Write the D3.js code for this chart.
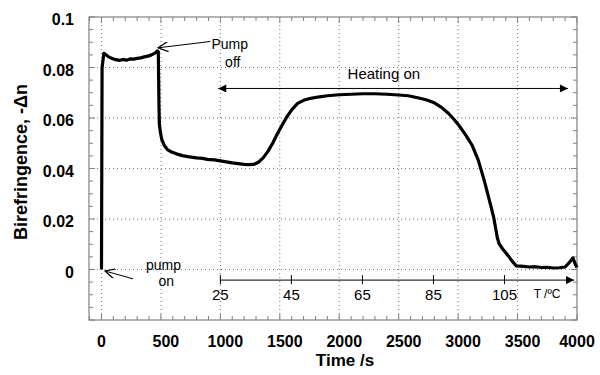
<!DOCTYPE html>
<html>
<head>
<meta charset="utf-8">
<script src="https://cdnjs.cloudflare.com/ajax/libs/d3/7.8.5/d3.min.js"></script>
<style>
  body { margin: 0; background: #fff; }
  svg text { font-family: "Liberation Sans", Arial, sans-serif; }
</style>
</head>
<body>
<svg id="chart" width="600" height="375"></svg>
<script>
// time (s) and birefringence readings
var times = [0, 5, 20, 40, 60, 90, 120, 150, 180, 210, 240, 270, 300, 330, 360, 390, 420, 450, 470, 478,
  481, 484, 487, 495, 507, 530, 555, 590, 630, 680, 740, 800, 850, 890, 950, 1000, 1050, 1100, 1150, 1200,
  1250, 1285, 1320, 1360, 1400, 1440, 1480, 1520, 1560, 1600, 1650, 1700, 1760, 1820, 1900, 2000, 2100, 2200,
  2300, 2400, 2500, 2580, 2660, 2730, 2800, 2860, 2920, 2970, 3020, 3070, 3120, 3170, 3220, 3260, 3300, 3330,
  3345, 3380, 3420, 3460, 3490, 3550, 3600, 3650, 3700, 3750, 3800, 3850, 3900, 3940, 3965, 3985, 4000];
var biref = [0.0, 0.080, 0.0856, 0.0850, 0.0842, 0.0836, 0.0831, 0.0828, 0.0832, 0.0829, 0.0834, 0.0833, 0.0836,
  0.0838, 0.0842, 0.0845, 0.0850, 0.0857, 0.0866, 0.0862,
  0.075, 0.064, 0.0575, 0.0545, 0.0515, 0.0490, 0.0475, 0.0465, 0.0458, 0.0451, 0.0446, 0.0442, 0.0440,
  0.0436, 0.0434, 0.0430, 0.0426, 0.0422, 0.0419, 0.0416,
  0.0415, 0.0417, 0.0425, 0.0442, 0.0468, 0.0500, 0.0538, 0.0572, 0.0605, 0.0632, 0.0658, 0.0670, 0.0678,
  0.0683, 0.0688, 0.0692, 0.0694, 0.0696,
  0.0696, 0.0694, 0.0691, 0.0688, 0.0680, 0.0672, 0.0660, 0.0642, 0.0618, 0.0592, 0.0562, 0.0528, 0.0490,
  0.0432, 0.0352, 0.0280, 0.0205, 0.0125,
  0.0102, 0.0078, 0.0055, 0.0030, 0.0014, 0.0012, 0.0010, 0.0011, 0.0008, 0.0009, 0.0006, 0.0007, 0.0010,
  0.0030, 0.0046, 0.0022, 0.0008];

// tick labels
var xTicks = [0, 500, 1000, 1500, 2000, 2500, 3000, 3500, 4000];
var yTicks = [0, 0.02, 0.04, 0.06, 0.08, 0.1];
var tempTicks = [25, 45, 65, 85, 105];

// temperature axis: time span it covers and its temperature range
var tempTime = [1000, 3390];
var tempRange = [25, 105];

var svg = d3.select("#chart");
var pLeft = 89, pRight = 577, pTop = 17, pBottom = 320;

var x = d3.scaleLinear().domain([-105, 4000]).range([pLeft, pRight]);
var y = d3.scaleLinear().domain([-0.02, 0.1]).range([pBottom, pTop]);
var tx = d3.scaleLinear().domain(tempRange).range([x(tempTime[0]), x(tempTime[1])]);

var frameCol = "#808080";

// grid
svg.append("g").selectAll("line")
  .data(xTicks.filter(d => d < 4000))
  .enter().append("line")
  .attr("x1", d => x(d)).attr("x2", d => x(d))
  .attr("y1", pTop).attr("y2", pBottom)
  .attr("stroke", "#777").attr("stroke-width", 1).attr("stroke-dasharray", "1,3");
svg.append("g").selectAll("line")
  .data(yTicks.filter(d => d < 0.1))
  .enter().append("line")
  .attr("x1", pLeft).attr("x2", pRight)
  .attr("y1", d => y(d)).attr("y2", d => y(d))
  .attr("stroke", "#777").attr("stroke-width", 1).attr("stroke-dasharray", "1,3");

// minor / major ticks on all four sides, pointing in
var xMinor = d3.range(-100, 4001, 100);
var yMinor = d3.range(-0.02, 0.1001, 0.005);
var tk = svg.append("g").attr("stroke", frameCol).attr("stroke-width", 1);
xMinor.forEach(function (t) {
  var len = t % 500 === 0 ? 6 : 4;
  tk.append("line").attr("x1", x(t)).attr("x2", x(t)).attr("y1", pBottom).attr("y2", pBottom - len);
  tk.append("line").attr("x1", x(t)).attr("x2", x(t)).attr("y1", pTop).attr("y2", pTop + len);
});
yMinor.forEach(function (v) {
  var major = Math.abs(Math.round(v * 1000) % 20) === 0;
  var len = major ? 6 : 4;
  tk.append("line").attr("x1", pLeft).attr("x2", pLeft + len).attr("y1", y(v)).attr("y2", y(v));
  tk.append("line").attr("x1", pRight).attr("x2", pRight - len).attr("y1", y(v)).attr("y2", y(v));
});

// frame
svg.append("rect")
  .attr("x", pLeft).attr("y", pTop)
  .attr("width", pRight - pLeft).attr("height", pBottom - pTop)
  .attr("fill", "none").attr("stroke", frameCol).attr("stroke-width", 1.2);

// tick labels
svg.append("g").selectAll("text")
  .data(xTicks)
  .enter().append("text")
  .attr("x", d => x(d) + (d > 0 && d < 4000 ? 5 : 0))
  .attr("y", 347)
  .attr("text-anchor", "middle")
  .attr("font-size", 16).attr("font-weight", "bold")
  .text(d => d);
svg.append("g").selectAll("text")
  .data(yTicks)
  .enter().append("text")
  .attr("x", 74)
  .attr("y", d => y(d) + 8)
  .attr("text-anchor", "end")
  .attr("font-size", 16).attr("font-weight", "bold")
  .text(d => d === 0 ? "0" : d3.format(".2~f")(d));

// axis titles
svg.append("text")
  .attr("x", 345).attr("y", 366)
  .attr("text-anchor", "middle")
  .attr("font-size", 17).attr("font-weight", "bold")
  .text("Time /s");
svg.append("text")
  .attr("transform", "translate(27,162) rotate(-90)")
  .attr("text-anchor", "middle")
  .attr("font-size", 18).attr("font-weight", "bold")
  .text("Birefringence, -\u0394n");

// data line
var line = d3.line().x((d, i) => x(times[i])).y(d => y(d));
svg.append("path")
  .attr("d", line(biref))
  .attr("fill", "none")
  .attr("stroke", "#000")
  .attr("stroke-width", 3.2)
  .attr("stroke-linejoin", "round");

// arrow markers
var defs = svg.append("defs");
defs.append("marker").attr("id", "filled")
  .attr("viewBox", "0 0 10 10").attr("refX", 10).attr("refY", 5)
  .attr("markerWidth", 14).attr("markerHeight", 8).attr("markerUnits", "userSpaceOnUse")
  .attr("orient", "auto-start-reverse")
  .append("path").attr("d", "M0,0 L10,5 L0,10 z").attr("fill", "#000");
defs.append("marker").attr("id", "open")
  .attr("viewBox", "0 0 10 10").attr("refX", 10).attr("refY", 5)
  .attr("markerWidth", 12).attr("markerHeight", 10).attr("markerUnits", "userSpaceOnUse")
  .attr("orient", "auto")
  .append("path").attr("d", "M0,0 L10,5 L0,10").attr("fill", "none").attr("stroke", "#000").attr("stroke-width", 1.2);

// annotations (anchor points in data units)
var pumpOffArrow = [[916, 0.0903], [476, 0.0878]];
var pumpOnArrow = [[266, -0.0037], [30, -0.0006]];
var heatingArrow = [[982, 0.0717], [3924, 0.0717]];

function arrow(pts, marker, both) {
  var p = svg.append("line")
    .attr("x1", x(pts[0][0])).attr("y1", y(pts[0][1]))
    .attr("x2", x(pts[1][0])).attr("y2", y(pts[1][1]))
    .attr("stroke", "#000").attr("stroke-width", 1)
    .attr("marker-end", "url(#" + marker + ")");
  if (both) p.attr("marker-start", "url(#" + marker + ")");
}
arrow(pumpOffArrow, "open");
arrow(pumpOnArrow, "open");
arrow(heatingArrow, "filled", true);

function label(t, v, str, size) {
  svg.append("text").attr("x", x(t)).attr("y", y(v))
    .attr("font-size", size || 14).text(str);
}
label(925, 0.0874, "Pump");
label(1040, 0.0802, "off");
label(2070, 0.0755, "Heating on", 15);
label(375, 0.0000, "pump");
label(480, -0.0065, "on");

// temperature axis
var tY = y(-0.0042);
svg.append("line")
  .attr("x1", tx(25)).attr("x2", x(3975))
  .attr("y1", tY).attr("y2", tY)
  .attr("stroke", "#000").attr("stroke-width", 1)
  .attr("marker-end", "url(#filled)");
svg.append("g").selectAll("line")
  .data(tempTicks)
  .enter().append("line")
  .attr("x1", d => tx(d)).attr("x2", d => tx(d))
  .attr("y1", tY - 5).attr("y2", tY + 4)
  .attr("stroke", "#000").attr("stroke-width", 1);
svg.append("g").selectAll("text")
  .data(tempTicks)
  .enter().append("text")
  .attr("x", d => tx(d)).attr("y", tY + 20)
  .attr("text-anchor", "middle")
  .attr("font-size", 15)
  .text(d => d);
svg.append("text")
  .attr("x", tx(117)).attr("y", tY + 18)
  .attr("text-anchor", "middle")
  .attr("font-size", 12)
  .text("T /\u00BAC");
</script>
</body>
</html>
